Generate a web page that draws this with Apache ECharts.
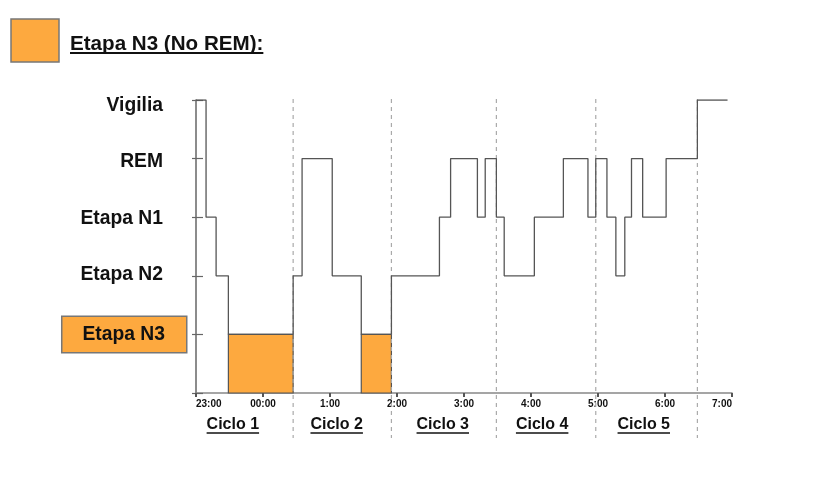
<!DOCTYPE html>
<html>
<head>
<meta charset="utf-8">
<script src="https://cdn.jsdelivr.net/npm/echarts@6/dist/echarts.min.js"></script>
<style>
  html, body { margin: 0; padding: 0; background: #fff; }
  #chart { width: 836px; height: 477px; }
</style>
</head>
<body>
<div id="chart"></div>
<script>
// ---- data ----
const stageLabels = ['', 'Etapa N3', 'Etapa N2', 'Etapa N1', 'REM', 'Vigilia'];
const tickLabels = ['23:00', '00:00', '1:00', '2:00', '3:00', '4:00', '5:00', '6:00', '7:00'];
const changeTimes = ['23:00', '23:09', '23:18', '23:29', '00:27', '00:35', '01:02', '01:28', '01:55',
  '02:38', '02:48', '03:12', '03:19', '03:29', '03:36', '04:03', '04:29', '04:51', '04:58',
  '05:08', '05:16', '05:24', '05:30', '05:40', '06:01', '06:29', '06:56'];
const stageSeq = ['Vigilia', 'Etapa N1', 'Etapa N2', 'Etapa N3', 'Etapa N2', 'REM', 'Etapa N2', 'Etapa N3', 'Etapa N2',
  'Etapa N1', 'REM', 'Etapa N1', 'REM', 'Etapa N1', 'Etapa N2', 'Etapa N1', 'REM', 'Etapa N1', 'REM',
  'Etapa N1', 'Etapa N2', 'Etapa N1', 'REM', 'Etapa N1', 'REM', 'Vigilia', 'Vigilia'];
const n3Starts = ['23:29', '01:28'];
const n3Ends = ['00:27', '01:55'];
const cycleBounds = ['00:27', '01:55', '03:29', '04:58', '06:29'];
const cycleNames = ['Ciclo 1', 'Ciclo 2', 'Ciclo 3', 'Ciclo 4', 'Ciclo 5'];
const cycleLabelAt = ['23:33', '01:06', '02:41', '04:10', '05:41'];
const legendText = 'Etapa N3 (No REM):';

// ---- helpers ----
function toHours(s) {
  const [h, m] = s.split(':').map(Number);
  return (h >= 23 ? h - 23 : h + 1) + m / 60;
}
const ORANGE = '#FDA93F';
const FONT = '"Liberation Sans", Arial, sans-serif';
const measureCtx = document.createElement('canvas').getContext('2d');
function textWidth(font, txt) { measureCtx.font = font; return measureCtx.measureText(txt).width; }

const stepData = changeTimes.map((t, i) => [toHours(t), stageLabels.indexOf(stageSeq[i])]);
const n3Areas = n3Starts.map((t, i) => [
  { xAxis: toHours(t), yAxis: 0 },
  { xAxis: toHours(n3Ends[i]), yAxis: stageLabels.indexOf('Etapa N3') }
]);

const cycleFont = 'bold 16px ' + FONT;
const legendFont = 'bold 20.6px ' + FONT;
const legendW = textWidth(legendFont, legendText);

// small vertical nudges of the stage labels, as in the reference
const labelPad = { 'Vigilia': [11, 23, 0, 0], 'REM': [7, 23, 0, 0], 'Etapa N1': [3, 23, 0, 0], 'Etapa N2': [0, 23, 2, 0] };

const richStyles = {
  box: { fontFamily: FONT, fontWeight: 'bold', fontSize: 19.3, color: '#111',
    backgroundColor: ORANGE, borderColor: '#777', borderWidth: 1.5, padding: [8, 21, 8, 20] }
};
Object.keys(labelPad).forEach((k, i) => {
  richStyles['n' + i] = { fontFamily: FONT, fontWeight: 'bold', fontSize: 19.3, color: '#111', padding: labelPad[k] };
});

const chart = echarts.init(document.getElementById('chart'), null, { renderer: 'canvas' });
chart.setOption({
  animation: false,
  backgroundColor: '#fff',
  grid: { left: 196, right: 104, top: 100, bottom: 84 },
  xAxis: {
    type: 'value', min: 0, max: 8, interval: 1,
    axisLine: { show: true, lineStyle: { color: '#888', width: 1.5 } },
    axisTick: { show: true, length: 4, lineStyle: { color: '#555', width: 2 } },
    splitLine: { show: false },
    axisLabel: {
      margin: 6, color: '#111', fontFamily: FONT, fontWeight: 'bold', fontSize: 10,
      alignMinLabel: 'left', alignMaxLabel: 'right',
      formatter: v => tickLabels[Math.round(v)]
    }
  },
  yAxis: [{
    type: 'value', min: 0, max: 5, interval: 1,
    axisLine: { show: true, lineStyle: { color: '#666', width: 1.5 } },
    axisTick: { show: true, length: 4, lineStyle: { color: '#666', width: 1.2 } },
    splitLine: { show: false },
    axisLabel: {
      margin: 10,
      formatter: v => {
        const l = stageLabels[Math.round(v)];
        if (!l) return '';
        if (l === 'Etapa N3') return '{box|' + l + '}';
        return '{n' + Object.keys(labelPad).indexOf(l) + '|' + l + '}';
      },
      rich: richStyles
    }
  }, {
    type: 'value', min: 0, max: 5, interval: 1, position: 'left',
    axisLine: { show: false }, splitLine: { show: false }, axisLabel: { show: false },
    axisTick: { show: true, inside: true, length: 7, lineStyle: { color: '#666', width: 1.2 } }
  }],
  series: [
    {
      type: 'line', step: 'end', data: stepData, symbol: 'none', z: 3,
      lineStyle: { color: '#555', width: 1.3 },
      markArea: {
        silent: true,
        itemStyle: { color: ORANGE, borderColor: '#555', borderWidth: 1.2 },
        data: n3Areas
      }
    },
    {
      type: 'custom', clip: false, silent: true, z: 1,
      data: cycleBounds.map(t => [toHours(t), 0]),
      encode: { x: 0, y: 1 },
      renderItem: (params, api) => {
        const t = api.value(0);
        const top = api.coord([t, 5]);
        const bot = api.coord([t, 0]);
        return {
          type: 'line',
          shape: { x1: top[0], y1: top[1] - 1, x2: bot[0], y2: bot[1] + 45 },
          style: { stroke: '#aaa', lineWidth: 1.2, lineDash: [4, 4] }
        };
      }
    },
    {
      type: 'custom', clip: false, silent: true, z: 4,
      data: cycleLabelAt.map((t, i) => [toHours(t), 0, i]),
      encode: { x: 0, y: 1 },
      renderItem: (params, api) => {
        const p = api.coord([api.value(0), 0]);
        const name = cycleNames[api.value(2)];
        const w = textWidth(cycleFont, name);
        const cy = p[1] + 32;
        return {
          type: 'group',
          children: [
            { type: 'text', x: p[0], y: cy,
              style: { text: name, font: cycleFont, fill: '#111', align: 'center', verticalAlign: 'middle' } },
            { type: 'line', shape: { x1: p[0] - w / 2, y1: cy + 8, x2: p[0] + w / 2, y2: cy + 8 },
              style: { stroke: '#111', lineWidth: 1.6 } }
          ]
        };
      }
    }
  ],
  graphic: [
    { type: 'rect', shape: { x: 11, y: 19, width: 48, height: 43 },
      style: { fill: ORANGE, stroke: '#777', lineWidth: 1.5 } },
    { type: 'text', x: 70, y: 44,
      style: { text: legendText, font: legendFont, fill: '#111', align: 'left', verticalAlign: 'middle' } },
    { type: 'line', shape: { x1: 70, y1: 53, x2: 70 + legendW, y2: 53 },
      style: { stroke: '#111', lineWidth: 2 } }
  ]
});
</script>
</body>
</html>
